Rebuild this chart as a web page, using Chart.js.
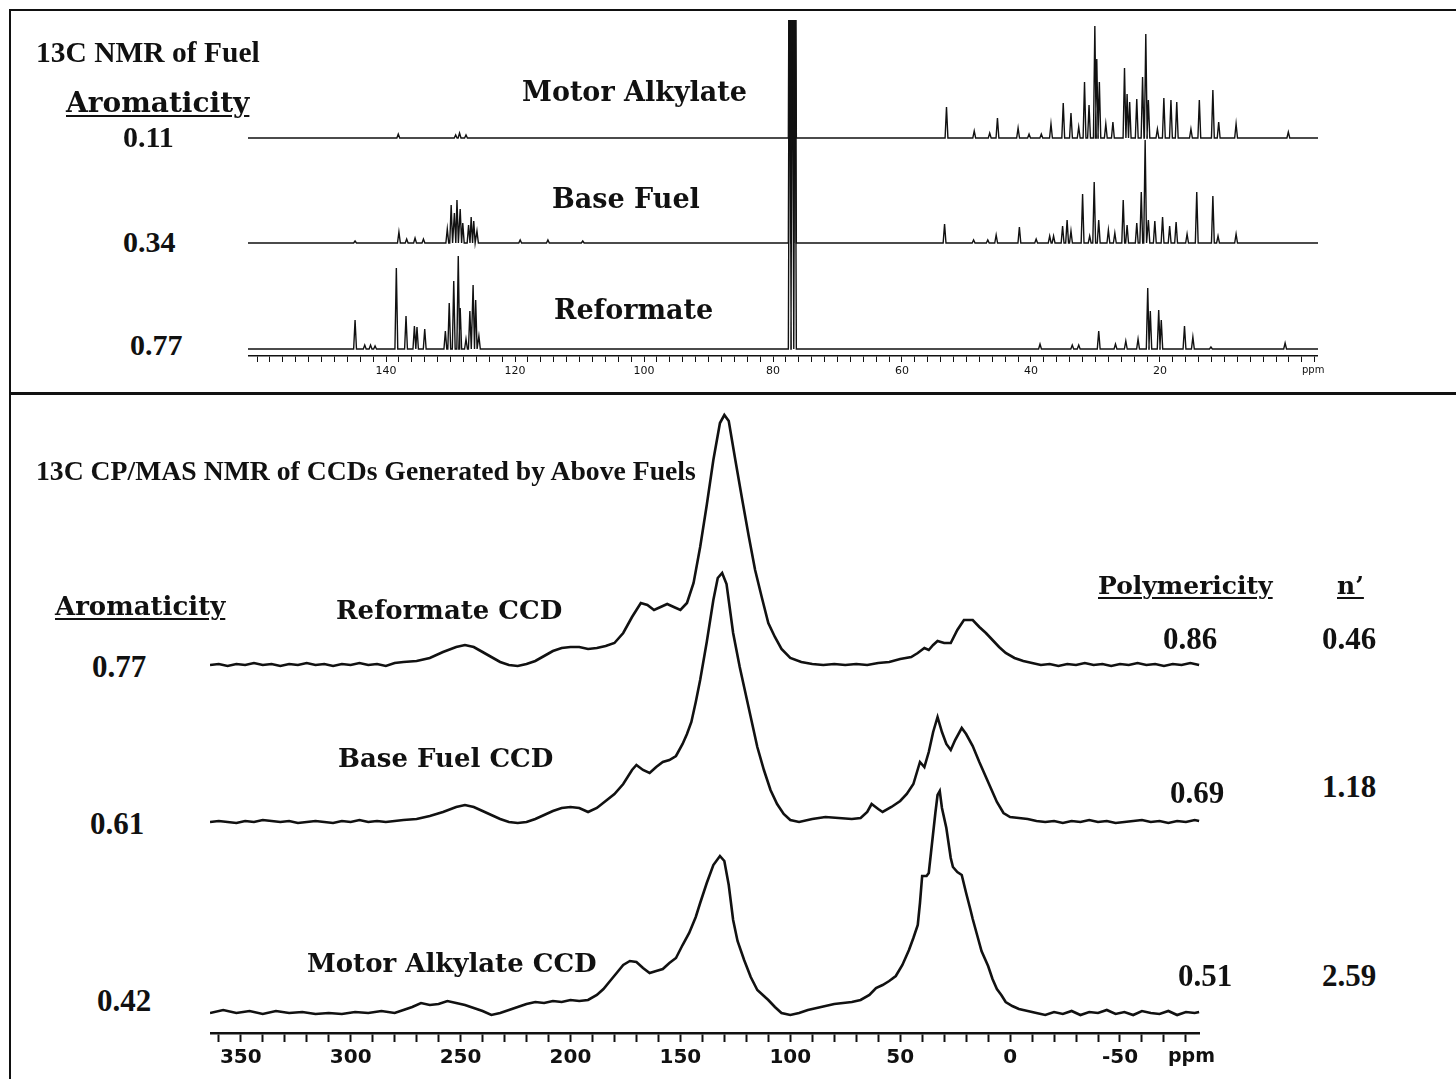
<!DOCTYPE html>
<html>
<head>
<meta charset="utf-8">
<script src="https://cdn.jsdelivr.net/npm/chart.js@4.4.1/dist/chart.umd.min.js"></script>
<style>
  body { margin: 0; width: 1456px; height: 1079px; background: #fff; position: relative; overflow: hidden; }
  canvas { position: absolute; }
  .rule { position: absolute; background: #111; }
  .t { position: absolute; white-space: nowrap; line-height: 1; color: #111; font-weight: bold; z-index: 2; }
  .tm { font-family: "Liberation Serif", serif; }
  .dv { font-family: "DejaVu Serif", serif; }
  .u { text-decoration: underline; text-decoration-thickness: 2px; text-underline-offset: 3px; }
</style>
</head>
<body>

<!-- frame -->
<div class="rule" style="left:10px;top:9px;width:1446px;height:2px"></div>
<div class="rule" style="left:9px;top:9px;width:2px;height:1070px"></div>
<div class="rule" style="left:10px;top:392px;width:1446px;height:3px"></div>

<canvas id="fuelChart" width="1070" height="372" style="left:248px;top:20px"></canvas>
<canvas id="ccdChart" width="990" height="679" style="left:210px;top:400px"></canvas>

<!-- top panel text -->
<div class="t tm" style="left:36px;top:38px;font-size:29.5px">13C NMR of Fuel</div>
<div class="t dv u" style="left:66px;top:89px;font-size:28px">Aromaticity</div>
<div class="t tm" style="left:123px;top:122px;font-size:30px">0.11</div>
<div class="t tm" style="left:123px;top:227px;font-size:30px">0.34</div>
<div class="t tm" style="left:130px;top:330px;font-size:30px">0.77</div>
<div class="t dv" style="left:522px;top:78px;font-size:27px">Motor Alkylate</div>
<div class="t dv" style="left:552px;top:185px;font-size:27px">Base Fuel</div>
<div class="t dv" style="left:554px;top:296px;font-size:27px">Reformate</div>
<div class="t" style="left:1302px;top:365px;font-size:10px;font-weight:normal;font-family:'DejaVu Sans'">ppm</div>

<!-- bottom panel text -->
<div class="t tm" style="left:36px;top:457px;font-size:27.7px">13C CP/MAS NMR of CCDs Generated by Above Fuels</div>
<div class="t dv u" style="left:55px;top:593px;font-size:26px">Aromaticity</div>
<div class="t tm" style="left:92px;top:651px;font-size:31px">0.77</div>
<div class="t tm" style="left:90px;top:808px;font-size:31px">0.61</div>
<div class="t tm" style="left:97px;top:985px;font-size:31px">0.42</div>
<div class="t dv" style="left:336px;top:597px;font-size:26px">Reformate CCD</div>
<div class="t dv" style="left:338px;top:745px;font-size:26px">Base Fuel CCD</div>
<div class="t dv" style="left:307px;top:950px;font-size:26px">Motor Alkylate CCD</div>
<div class="t dv u" style="left:1098px;top:573px;font-size:25px">Polymericity</div>
<div class="t dv u" style="left:1337px;top:573px;font-size:25px">n’</div>
<div class="t tm" style="left:1163px;top:623px;font-size:31px">0.86</div>
<div class="t tm" style="left:1170px;top:777px;font-size:31px">0.69</div>
<div class="t tm" style="left:1178px;top:960px;font-size:31px">0.51</div>
<div class="t tm" style="left:1322px;top:623px;font-size:31px">0.46</div>
<div class="t tm" style="left:1322px;top:771px;font-size:31px">1.18</div>
<div class="t tm" style="left:1322px;top:960px;font-size:31px">2.59</div>
<div class="t" style="left:1168px;top:1046px;font-size:19px;font-family:'DejaVu Sans'">ppm</div>

<script>
// ---- liquid 13C spectra of the fuels: peak position (ppm) and height ----
const motorPpm = [138.1, 129.2, 128.6, 127.6, 77.4, 77.0, 76.6, 53.1, 48.8, 46.4, 45.2, 42.0, 40.3, 38.4, 36.9, 35.0, 33.8, 32.6, 31.7, 31.0, 30.1, 29.8, 29.4, 28.4, 27.3, 25.5, 25.1, 24.7, 23.6, 22.7, 22.2, 21.8, 20.4, 19.4, 18.3, 17.4, 15.2, 13.9, 11.8, 10.9, 8.2, 0.1];
const motorHeight = [4, 3, 5, 3, 400, 400, 400, 31, 7, 5, 20, 10, 4, 4, 14, 35, 25, 11, 56, 33, 112, 79, 56, 14, 16, 70, 44, 36, 39, 61, 104, 38, 9, 40, 38, 36, 9, 38, 48, 16, 14, 6];

const basePpm = [144.8, 138.0, 136.8, 135.5, 134.2, 130.5, 129.9, 129.4, 129.0, 128.5, 128.1, 127.2, 126.8, 126.4, 125.9, 119.2, 114.9, 109.5, 77.4, 77.0, 76.6, 53.4, 48.9, 46.7, 45.4, 41.8, 39.2, 37.1, 36.5, 35.1, 34.4, 33.8, 32.0, 30.9, 30.2, 29.5, 28.0, 27.0, 25.7, 25.1, 23.6, 22.9, 22.3, 21.8, 20.8, 19.6, 18.5, 17.5, 15.8, 14.3, 11.8, 11.0, 8.2];
const baseHeight = [2, 11, 4, 5, 4, 14, 38, 30, 43, 34, 20, 18, 26, 22, 12, 3, 3, 2, 400, 400, 400, 19, 3, 3, 8, 16, 4, 7, 7, 17, 23, 12, 49, 7, 61, 23, 13, 10, 43, 18, 20, 51, 103, 23, 22, 26, 17, 21, 9, 51, 47, 7, 9];

const reformPpm = [144.8, 143.3, 142.4, 141.7, 138.4, 136.9, 135.6, 135.2, 134.0, 130.8, 130.2, 129.5, 128.8, 128.5, 127.6, 127.0, 126.5, 126.1, 125.6, 77.4, 77.0, 76.6, 38.6, 33.6, 32.6, 29.5, 26.9, 25.3, 23.4, 21.9, 21.5, 20.2, 19.8, 16.2, 14.9, 12.1, 0.6];
const reformHeight = [29, 4, 4, 3, 81, 33, 23, 22, 20, 18, 46, 68, 93, 41, 10, 38, 64, 49, 13, 400, 400, 400, 5, 4, 4, 18, 5, 8, 10, 61, 38, 39, 29, 23, 12, 2, 6];

// ---- CP/MAS spectra of the deposits: ppm and intensity above baseline ----
const reformCcdPpm = [364, 360, 356, 352, 348, 344, 340, 336, 332, 328, 324, 320, 316, 312, 308, 304, 300, 296, 292, 288, 284, 280, 276, 270, 264, 258, 252, 248, 244, 240, 236, 232, 228, 224, 220, 216, 212, 208, 204, 200, 196, 192, 188, 184, 180, 176, 172, 168, 165, 162, 159, 156, 153, 150, 147, 144, 141, 138, 135, 132, 130, 128, 125, 122, 119, 116, 113, 110, 107, 104, 100, 95, 90, 85, 80, 75, 70, 65, 60, 55, 50, 45, 42, 39, 37, 35, 33, 30, 27, 24, 21, 17, 14, 11, 8, 5, 2, -2, -6, -10, -14, -18, -22, -26, -30, -34, -38, -42, -46, -50, -54, -58, -62, -66, -70, -74, -78, -82, -86];
const reformCcdInt = [0, 1, -1, 1, 0, 2, 0, 1, -1, 1, 0, 2, 0, 1, -1, 1, 0, 2, 0, 1, -1, 2, 3, 4, 7, 13, 18, 20, 18, 13, 8, 3, 0, -1, 1, 4, 9, 14, 17, 18, 18, 16, 17, 19, 22, 32, 48, 62, 60, 55, 58, 61, 58, 55, 62, 82, 118, 160, 205, 242, 250, 244, 205, 167, 130, 95, 68, 42, 28, 16, 7, 3, 1, 0, 1, 0, 1, 0, 2, 3, 6, 8, 12, 17, 15, 20, 24, 22, 22, 35, 45, 45, 38, 32, 25, 18, 12, 7, 4, 2, 0, 1, -1, 1, 0, 2, 0, 1, -1, 1, 0, 2, 0, 1, -1, 1, 0, 2, 0];

const baseCcdPpm = [364, 360, 356, 352, 348, 344, 340, 336, 332, 328, 324, 320, 316, 312, 308, 304, 300, 296, 292, 288, 284, 280, 276, 270, 264, 258, 252, 248, 244, 240, 236, 232, 228, 224, 220, 216, 212, 208, 204, 200, 196, 192, 188, 184, 180, 176, 172, 170, 167, 164, 161, 158, 155, 152, 149, 147, 145, 143, 141, 138, 135, 133, 131, 129, 126, 123, 121, 118, 115, 112, 109, 106, 103, 100, 96, 90, 84, 78, 72, 68, 65, 63, 60, 58, 54, 50, 47, 44, 41, 39, 37, 35, 33, 31, 29, 27, 25, 22, 20, 17, 14, 11, 9, 6, 3, 0, -4, -8, -12, -16, -20, -24, -28, -32, -36, -40, -44, -48, -52, -56, -60, -64, -68, -72, -76, -80, -84, -86];
const baseCcdInt = [0, 1, 0, -1, 1, 0, 2, 1, 0, 1, -1, 0, 1, 0, -1, 1, 0, 2, 0, 1, 0, 1, 2, 3, 6, 10, 15, 17, 15, 11, 7, 3, 0, -1, 0, 3, 7, 11, 14, 15, 14, 10, 14, 21, 28, 38, 52, 57, 52, 49, 55, 60, 62, 66, 78, 88, 100, 120, 142, 180, 222, 244, 249, 238, 189, 155, 135, 105, 75, 52, 32, 18, 8, 2, 0, 3, 5, 4, 3, 4, 10, 18, 13, 10, 15, 21, 28, 38, 60, 55, 70, 90, 105, 90, 78, 72, 82, 94, 88, 76, 60, 45, 35, 20, 9, 5, 4, 3, 1, 0, 1, -1, 1, 0, 2, 0, 1, -1, 0, 1, 2, 0, 1, -1, 1, 0, 2, 1];

const motorCcdPpm = [364, 358, 352, 346, 340, 334, 328, 322, 316, 310, 304, 298, 292, 286, 280, 276, 272, 268, 264, 260, 256, 252, 248, 244, 240, 236, 232, 228, 224, 220, 216, 212, 208, 204, 200, 196, 192, 188, 185, 182, 179, 176, 173, 170, 167, 164, 161, 158, 155, 152, 149, 146, 143, 141, 138, 135, 132, 130, 128, 126, 124, 121, 118, 115, 112, 110, 107, 104, 100, 96, 92, 88, 84, 80, 76, 72, 68, 64, 61, 58, 55, 52, 49, 46, 44, 42, 41, 40, 38, 37, 36, 34, 33, 32, 31, 29, 27, 26, 24, 22, 20, 18, 17, 15, 13, 10, 8, 6, 4, 2, -1, -4, -8, -12, -16, -20, -24, -28, -32, -36, -40, -44, -48, -52, -56, -60, -64, -68, -72, -76, -80, -84, -86];
const motorCcdInt = [0, 3, 0, 2, -1, 2, 0, 1, -1, 0, -1, 1, 0, 2, 0, 3, 6, 10, 8, 9, 12, 10, 8, 5, 2, -2, 0, 3, 6, 9, 11, 10, 12, 11, 13, 12, 13, 18, 24, 32, 40, 48, 52, 51, 45, 40, 42, 44, 50, 55, 68, 80, 96, 110, 130, 148, 157, 152, 128, 93, 72, 53, 36, 23, 17, 13, 6, 0, -2, 0, 3, 5, 7, 9, 10, 11, 13, 18, 25, 28, 32, 37, 48, 63, 75, 88, 110, 137, 137, 140, 160, 200, 218, 222, 205, 185, 155, 146, 141, 138, 120, 103, 94, 78, 62, 47, 34, 24, 18, 11, 7, 4, 2, 0, -2, 1, -1, 2, -2, 1, 0, 3, -1, 1, -2, 2, 0, -1, 2, -2, 1, 0, 1];

// axis ranges (ppm) and where each trace sits in its stack
const fuelRange = [161.4, -4.5];
const ccdRange = [364, -86.4];
const fuelOffsets = { motor: 218, base: 113, reform: 7 };
const ccdOffsets = { reform: 368, base: 211, motor: 20 };

const STICK_HALF = 0.22;   // half base width of a liquid-state line, ppm
const INK = '#111';

// turn a peak list into a baseline with narrow lines on it
function stickTrace(ppm, height, offset) {
    const order = ppm.map((p, i) => i).sort((a, b) => ppm[b] - ppm[a]);
    const pts = [{ x: fuelRange[0], y: offset }];
    order.forEach(i => {
        pts.push({ x: ppm[i] + STICK_HALF, y: offset });
        pts.push({ x: ppm[i], y: offset + height[i] });
        pts.push({ x: ppm[i] - STICK_HALF, y: offset });
    });
    pts.push({ x: fuelRange[1], y: offset });
    return pts;
}

function broadTrace(ppm, intensity, offset) {
    return ppm.map((p, i) => ({ x: p, y: offset + intensity[i] }));
}

function lineSet(label, data, width) {
    return { label: label, data: data, borderColor: INK, borderWidth: width, pointRadius: 0, tension: 0, fill: false };
}

function ppmAxis(range, step, tickLen, fontSize, bold, height, labelFn) {
    return {
        type: 'linear',
        reverse: true,
        min: range[1],
        max: range[0],
        afterFit: function(scale) { scale.height = height; },
        border: { display: true, color: INK, width: bold ? 2.5 : 1.5 },
        grid: { display: true, drawOnChartArea: false, drawTicks: true, tickLength: tickLen, color: INK, tickWidth: bold ? 2 : 1 },
        ticks: {
            stepSize: step,
            maxTicksLimit: 1000,
            autoSkip: false,
            includeBounds: false,
            maxRotation: 0,
            padding: bold ? 4 : 3,
            color: INK,
            font: { family: 'DejaVu Sans', size: fontSize, weight: bold ? 'bold' : 'normal' },
            callback: labelFn
        }
    };
}

const baseOptions = {
    responsive: false,
    animation: false,
    devicePixelRatio: 1,
    events: [],
    layout: { padding: 0 },
    plugins: { legend: { display: false }, tooltip: { enabled: false } }
};

new Chart(document.getElementById('fuelChart'), {
    type: 'line',
    data: {
        datasets: [
            lineSet('Motor Alkylate', stickTrace(motorPpm, motorHeight, fuelOffsets.motor), 1.4),
            lineSet('Base Fuel', stickTrace(basePpm, baseHeight, fuelOffsets.base), 1.4),
            lineSet('Reformate', stickTrace(reformPpm, reformHeight, fuelOffsets.reform), 1.4)
        ]
    },
    options: Object.assign({}, baseOptions, {
        scales: {
            x: ppmAxis(fuelRange, 2, 6, 11, false, 36,
                v => (Math.round(v) % 20 === 0 && Math.abs(v - Math.round(v)) < 1e-6 && v >= 20 && v <= 140) ? String(Math.round(v)) : ''),
            y: { display: false, min: 0, max: 336 }
        }
    })
});

new Chart(document.getElementById('ccdChart'), {
    type: 'line',
    data: {
        datasets: [
            lineSet('Reformate CCD', broadTrace(reformCcdPpm, reformCcdInt, ccdOffsets.reform), 2.6),
            lineSet('Base Fuel CCD', broadTrace(baseCcdPpm, baseCcdInt, ccdOffsets.base), 2.6),
            lineSet('Motor Alkylate CCD', broadTrace(motorCcdPpm, motorCcdInt, ccdOffsets.motor), 2.6)
        ]
    },
    options: Object.assign({}, baseOptions, {
        scales: {
            x: ppmAxis(ccdRange, 10, 9, 20, true, 46,
                v => (Math.round(v) % 50 === 0 && Math.abs(v - Math.round(v)) < 1e-6 && v >= -50 && v <= 350) ? String(Math.round(v)) : ''),
            y: { display: false, min: 0, max: 633 }
        }
    })
});
</script>
</body>
</html>
